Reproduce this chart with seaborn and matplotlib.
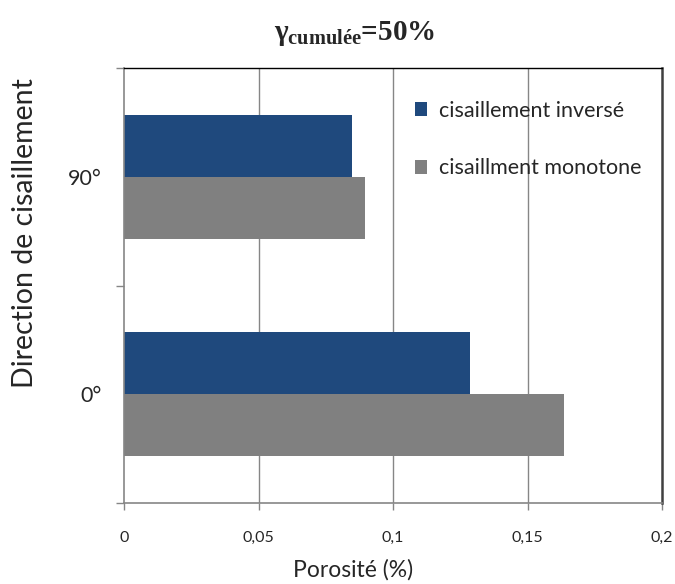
import matplotlib
matplotlib.use("Agg")
import matplotlib.pyplot as plt
import seaborn as sns
import pandas as pd
from matplotlib.ticker import FixedLocator

directions = ["90°", "0°"]
series = ["cisaillement inversé", "cisaillment monotone"]
inverse_vals = [0.0848, 0.1288]
monotone_vals = [0.0896, 0.1636]
xticks = [0, 0.05, 0.1, 0.15, 0.2]
xtick_labels = ["0", "0,05", "0,1", "0,15", "0,2"]
colors = ["#1F497D", "#808080"]

df = pd.DataFrame({
    "direction": directions * 2,
    "serie": [series[0]] * 2 + [series[1]] * 2,
    "porosite": inverse_vals + monotone_vals,
})

sns.set_theme(style="white")
plt.rcParams["font.family"] = ["Lato", "DejaVu Sans"]
plt.rcParams["mathtext.fontset"] = "custom"
plt.rcParams["mathtext.rm"] = "Liberation Serif:bold"
plt.rcParams["mathtext.it"] = "Liberation Serif:bold"
plt.rcParams["mathtext.bf"] = "Liberation Serif:bold"

fig = plt.figure(figsize=(6.75, 5.84), dpi=100)
ax = fig.add_axes([124 / 675, 1 - 503 / 584, 538 / 675, 435 / 584])

sns.barplot(data=df, y="direction", x="porosite", hue="serie",
            order=directions, hue_order=series, palette=colors,
            orient="h", width=0.57, gap=0, saturation=1,
            edgecolor="none", linewidth=0, ax=ax, zorder=2)

ax.set_xlim(0, 0.2)
ax.set_ylim(1.5, -0.5)
ax.set_xticks(xticks)
ax.set_xticklabels(xtick_labels, fontsize=11.5)
ax.tick_params(axis="x", direction="out", length=5, width=1, color="#868686",
               pad=15, bottom=True)
ax.set_yticks([0, 1])
ax.set_yticklabels(directions, fontsize=15.5)
ax.tick_params(axis="y", which="major", length=0, pad=16)
ax.yaxis.set_minor_locator(FixedLocator([-0.5, 0.5, 1.5]))
ax.tick_params(axis="y", which="minor", direction="out", length=6, width=1,
               color="#868686", left=True)

ax.grid(False)
for xv in xticks[1:-1]:
    ax.axvline(xv, color="#868686", linewidth=1, zorder=1)

for side in ["left", "bottom"]:
    ax.spines[side].set_color("#868686")
    ax.spines[side].set_linewidth(1.2)
ax.spines["top"].set_color("#000000")
ax.spines["top"].set_linewidth(1)
ax.spines["right"].set_color("#404040")
ax.spines["right"].set_linewidth(1.8)

ax.set_xlabel("")
ax.set_ylabel("")

handles, labels = ax.get_legend_handles_labels()
ax.legend(handles, labels, loc="upper left", bbox_to_anchor=(0.54, 0.925),
          frameon=False, fontsize=15.5, handlelength=0.6, handleheight=0.6,
          handletextpad=0.55, labelspacing=1.75, borderaxespad=0,
          borderpad=0)

fig.text(25 / 675, 1 - 233 / 584, "Direction de cisaillement", rotation=90,
         ha="center", va="center", fontsize=20.5)
fig.text(353 / 675, 1 - 570 / 584, "Porosité (%)", ha="center", va="center",
         fontsize=16.5)
fig.text(355 / 675, 1 - 33 / 584, r"$γ_{cumulée}$=50%", ha="center",
         va="center", fontsize=21, family="Liberation Serif", weight="bold")

fig.savefig("out.png", dpi=100)
